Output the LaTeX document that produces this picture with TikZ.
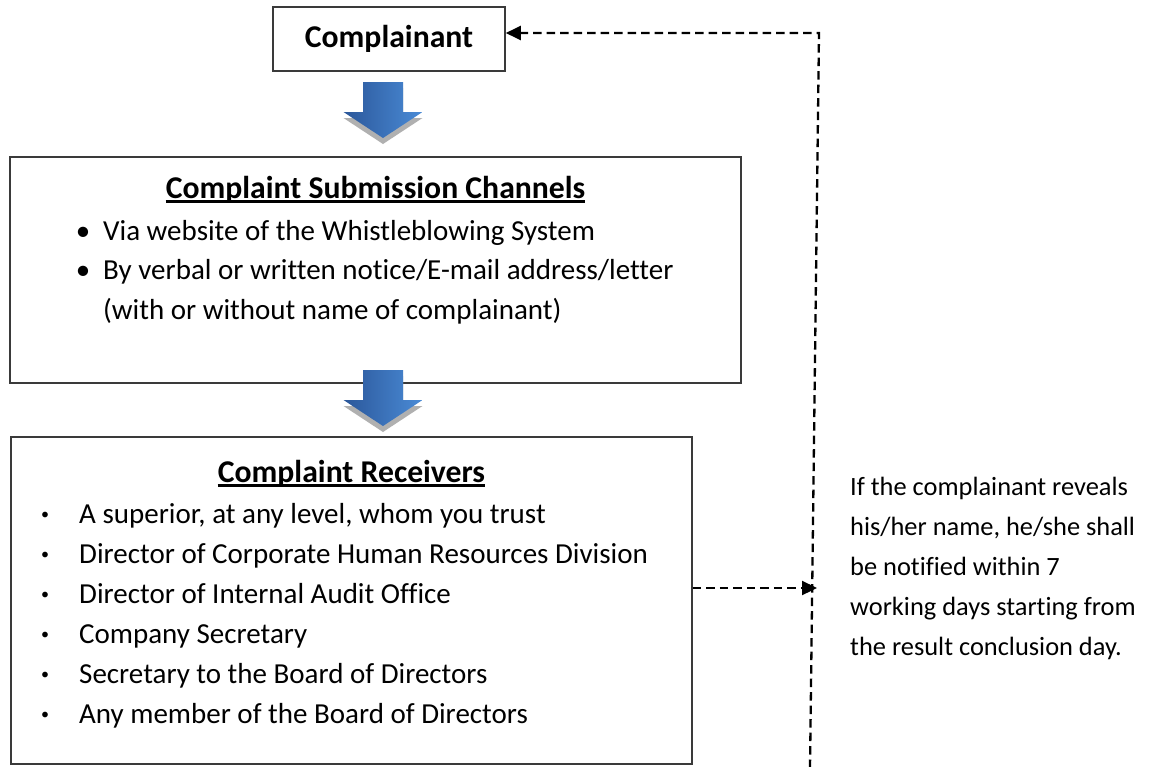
\documentclass[tikz,border=0pt]{standalone}
\usepackage{fontspec}
\setmainfont{Carlito}[Ligatures=NoCommon]
\usetikzlibrary{arrows.meta,calc}
\definecolor{arrdark}{HTML}{2B579A}
\definecolor{arrlight}{HTML}{4A8BD6}
\definecolor{boxline}{HTML}{3A3A3A}
\definecolor{shadowgray}{HTML}{B0B0B0}
\newcommand\mybody{\fontsize{29}{35}\selectfont}
\newcommand\mytitle{\bfseries\fontsize{31.7}{38}\selectfont}
\newcommand\mynote{\fontsize{26.4}{32}\selectfont}
\begin{document}
\begin{tikzpicture}[x=1pt,y=-1pt,
  box/.style={draw=boxline, line width=1.6pt, fill=white, inner sep=0pt},
  ttl/.style={font=\mytitle, inner sep=0pt, anchor=base},
  body/.style={font=\mybody, inner sep=0pt, anchor=base west},
  bul/.style={font=\mybody, inner sep=0pt, anchor=base},
  sbul/.style={font=\fontsize{16}{16}\selectfont, inner sep=0pt, anchor=base},
  note/.style={font=\mynote, inner sep=0pt, anchor=base west},
  uline/.style={line width=2.4pt},
  fb/.style={line width=2.3pt, dash pattern=on 8.5pt off 5pt},
  tip/.style={-{Triangle[length=15pt,width=14pt]}},
  blockarrow/.pic={
    \fill[shadowgray] (-20,6) -- (20,6) -- (20,36) -- (39.5,36) -- (0,62) -- (-39.5,36) -- (-20,36) -- cycle;
    \shade[left color=arrdark, right color=arrlight] (-20,0) -- (20,0) -- (20,30) -- (39.5,30) -- (0,56) -- (-39.5,30) -- (-20,30) -- cycle;
  }
]
\useasboundingbox (0,0) rectangle (1157,766);
\fill[white] (0,0) rectangle (1157,766);

% boxes
\node[box, minimum width=232pt, minimum height=64pt, font=\mytitle] (cpl) at (389,39) {Complainant};
\node[box, minimum width=731pt, minimum height=226pt] (chn) at (375.5,270) {};
\node[box, minimum width=681pt, minimum height=327pt] (rcv) at (351.5,600.5) {};

% block arrows
\pic at (383,82) {blockarrow};
\pic at (383,370) {blockarrow};

% submission channels
\node[ttl] (chnT) at (375.5,198) {Complaint Submission Channels};
\draw[uline] ($(chnT.base west)+(0,3.5)$) -- ($(chnT.base east)+(0,3.5)$);
\node[bul] (cb1) at (83,240) {•};
\node[body] (c1) at (103,240) {Via website of the Whistleblowing System};
\node[bul] (cb2) at (83,279) {•};
\node[body] (c2) at (103,279) {By verbal or written notice/E-mail address/letter};
\node[body] (c3) at (103,319) {(with or without name of complainant)};

% receivers
\node[ttl] (rcvT) at (351.5,482) {Complaint Receivers};
\draw[uline] ($(rcvT.base west)+(0,3.5)$) -- ($(rcvT.base east)+(0,3.5)$);
\node[sbul] (rb1) at (45,523) {\raisebox{3.7pt}{•}};
\node[body] (r1) at (79,523) {A superior, at any level, whom you trust};
\node[sbul] (rb2) at (45,563) {\raisebox{3.7pt}{•}};
\node[body] (r2) at (79,563) {Director of Corporate Human Resources Division};
\node[sbul] (rb3) at (45,603) {\raisebox{3.7pt}{•}};
\node[body] (r3) at (79,603) {Director of Internal Audit Office};
\node[sbul] (rb4) at (45,643) {\raisebox{3.7pt}{•}};
\node[body] (r4) at (79,643) {Company Secretary};
\node[sbul] (rb5) at (45,683) {\raisebox{3.7pt}{•}};
\node[body] (r5) at (79,683) {Secretary to the Board of Directors};
\node[sbul] (rb6) at (45,723) {\raisebox{3.7pt}{•}};
\node[body] (r6) at (79,723) {Any member of the Board of Directors};

% note
\node[note] (n1) at (850,495) {If the complainant reveals};
\node[note] (n2) at (850,535) {his/her name, he/she shall};
\node[note] (n3) at (850,575) {be notified within 7};
\node[note] (n4) at (850,615) {working days starting from};
\node[note] (n5) at (850,655) {the result conclusion day.};

% dashed feedback connectors
\coordinate (vb) at (810,768);
\coordinate (vt) at (819,33);
\coordinate (ra) at (817,588);
\draw[fb, tip] (vb) -- (vt) -- (vt -| cpl.east);
\draw[fb, tip] (rcv.east |- ra) -- (ra);
\end{tikzpicture}
\end{document}
